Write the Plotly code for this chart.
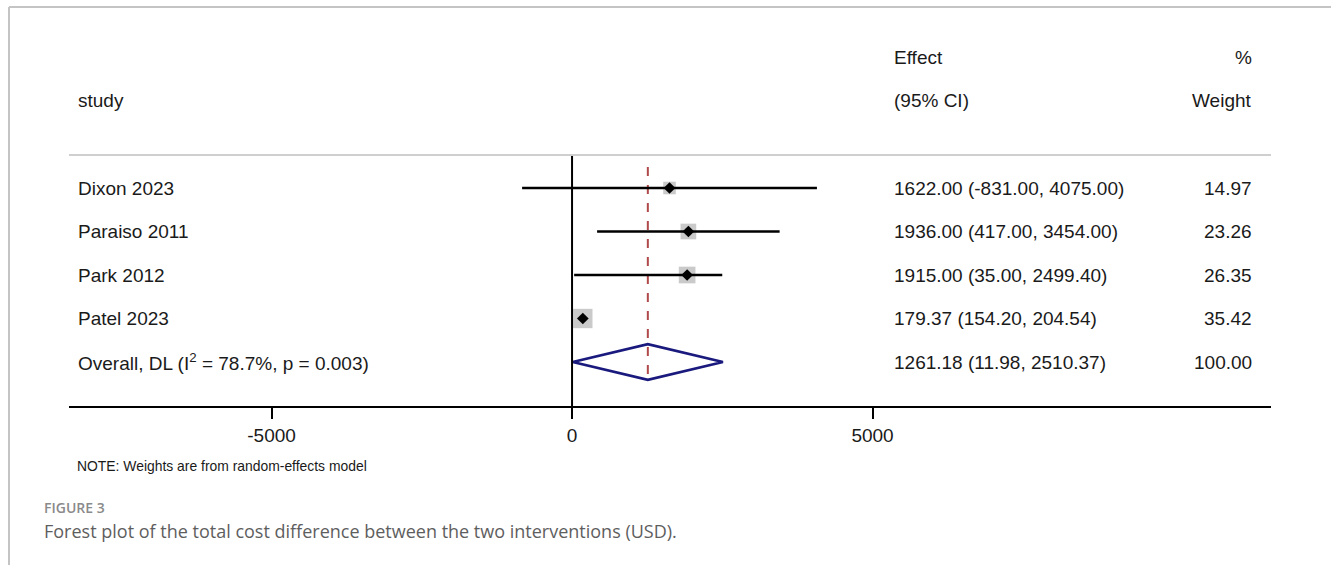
import plotly.graph_objects as go

# ---------------- data ----------------
studies = ["Dixon 2023", "Paraiso 2011", "Park 2012", "Patel 2023"]
effects = [1622.00, 1936.00, 1915.00, 179.37]
ci_low = [-831.00, 417.00, 35.00, 154.20]
ci_high = [4075.00, 3454.00, 2499.40, 204.54]
weights = [14.97, 23.26, 26.35, 35.42]

overall_label = "Overall, DL (I<sup>2</sup> = 78.7%, p = 0.003)"
overall_effect = 1261.18
overall_low = 11.98
overall_high = 2510.37
overall_weight = 100.00

tick_vals = [-5000, 0, 5000]
tick_text = ["-5000", "0", "5000"]

# ---------------- layout geometry ----------------
W, H = 1331, 565
ML, MR, MT, MB = 69, 60, 30, 159
plot_w = W - ML - MR
plot_h = H - MT - MB
X_RANGE = [-8370, 11630]
row0_px, row_step = 188, 43.5
Y_TOP = (MT - row0_px) / row_step
Y_BOT = (H - MB - row0_px) / row_step


def xpx(p):
    return X_RANGE[0] + (p - ML) / plot_w * (X_RANGE[1] - X_RANGE[0])


def ypx(p):
    return (p - row0_px) / row_step


def px_paper_x(p):
    return (p - ML) / plot_w


def px_paper_y(p):
    return (H - MB - p) / plot_h


FONT = "Liberation Sans, Arial, sans-serif"
FS = 19
n = len(studies)
rows = list(range(n))

fig = go.Figure()

# weight boxes
fig.add_trace(go.Scatter(
    x=effects, y=rows, mode="markers",
    marker=dict(symbol="square", size=[3.25 * w ** 0.5 for w in weights],
                color="#b4b4b4", line=dict(width=0)),
    showlegend=False, hoverinfo="skip"))

# CI lines
for i in rows:
    fig.add_trace(go.Scatter(
        x=[ci_low[i], ci_high[i]], y=[i, i], mode="lines",
        line=dict(color="black", width=2.5),
        showlegend=False, hoverinfo="skip"))

# point estimates
fig.add_trace(go.Scatter(
    x=effects, y=rows, mode="markers",
    marker=dict(symbol="diamond", size=9, color="black"),
    showlegend=False, hoverinfo="skip"))

# overall diamond
oy = n
hh = 0.41
fig.add_trace(go.Scatter(
    x=[overall_low, overall_effect, overall_high, overall_effect, overall_low],
    y=[oy, oy - hh, oy, oy + hh, oy], mode="lines",
    line=dict(color="#1a1a7e", width=2.8),
    showlegend=False, hoverinfo="skip"))

shapes = []
# overall effect dashed line
shapes.append(dict(type="line", xref="x", yref="y", x0=overall_effect, x1=overall_effect,
                   y0=ypx(167), y1=ypx(383),
                   line=dict(color="#b04a4a", width=2, dash="dash"), layer="below"))
# zero line
shapes.append(dict(type="line", xref="x", yref="y", x0=0, x1=0,
                   y0=ypx(155), y1=Y_BOT,
                   line=dict(color="black", width=2)))
# separator line under header
shapes.append(dict(type="line", xref="paper", yref="y", x0=0, x1=1,
                   y0=ypx(155), y1=ypx(155),
                   line=dict(color="#cfcfcf", width=2)))
# outer frame (top and left)
shapes.append(dict(type="line", xref="paper", yref="paper",
                   x0=px_paper_x(9), x1=px_paper_x(W + 5),
                   y0=px_paper_y(7), y1=px_paper_y(7),
                   line=dict(color="#c4c4c4", width=2)))
shapes.append(dict(type="line", xref="paper", yref="paper",
                   x0=px_paper_x(9), x1=px_paper_x(9),
                   y0=px_paper_y(7), y1=px_paper_y(H + 5),
                   line=dict(color="#c4c4c4", width=2)))

annotations = []


def txt(x, y, s, anchor="left", size=FS, color="#1a1a1a", xref="x", yref="y", family=FONT, weight=None):
    f = dict(family=family, size=size, color=color)
    if weight:
        f["weight"] = weight
    annotations.append(dict(x=x, y=y, xref=xref, yref=yref, text=s, showarrow=False,
                            xanchor=anchor, yanchor="middle", font=f))


X_STUDY = xpx(76)
X_EFFECT = xpx(892)
X_WEIGHT = xpx(1254)

# headers
txt(X_STUDY, ypx(100), "study")
txt(X_EFFECT, ypx(57), "Effect")
txt(X_EFFECT, ypx(100), "(95% CI)")
txt(X_WEIGHT, ypx(57), "%", anchor="right")
txt(X_WEIGHT, ypx(100), "Weight", anchor="right")

# rows
for i in rows:
    txt(X_STUDY, i, studies[i])
    txt(X_EFFECT, i, f"{effects[i]:.2f} ({ci_low[i]:.2f}, {ci_high[i]:.2f})")
    txt(X_WEIGHT, i, f"{weights[i]:.2f}", anchor="right")
txt(X_STUDY, oy, overall_label)
txt(X_EFFECT, oy, f"{overall_effect:.2f} ({overall_low:.2f}, {overall_high:.2f})")
txt(X_WEIGHT, oy, f"{overall_weight:.2f}", anchor="right")

# note and caption
txt(px_paper_x(75), px_paper_y(466), "NOTE: Weights are from random-effects model",
    size=13.9, xref="paper", yref="paper")
txt(px_paper_x(42), px_paper_y(508), "FIGURE 3", size=14, color="#8a8a8a",
    xref="paper", yref="paper", family="Open Sans, sans-serif", weight=600)
txt(px_paper_x(42), px_paper_y(531),
    "Forest plot of the total cost difference between the two interventions (USD).",
    size=18, color="#5e5e5e", xref="paper", yref="paper", family="Open Sans, sans-serif")

fig.update_layout(
    width=W, height=H,
    margin=dict(l=ML, r=MR, t=MT, b=MB, pad=0),
    paper_bgcolor="white", plot_bgcolor="white",
    shapes=shapes, annotations=annotations,
    font=dict(family=FONT, size=FS, color="#1a1a1a"),
    xaxis=dict(range=X_RANGE, tickvals=tick_vals, ticktext=tick_text,
               showgrid=False, zeroline=False, showline=True, linecolor="black",
               linewidth=2, ticks="outside", ticklen=11, tickwidth=2, tickcolor="black",
               tickfont=dict(family=FONT, size=FS, color="#1a1a1a"), fixedrange=True),
    yaxis=dict(range=[Y_BOT, Y_TOP], showgrid=False, zeroline=False, showticklabels=False,
               showline=False, ticks="", fixedrange=True),
)

fig.write_html("out.html", config={"displayModeBar": False},
               post_script="document.body.style.margin='0';")
